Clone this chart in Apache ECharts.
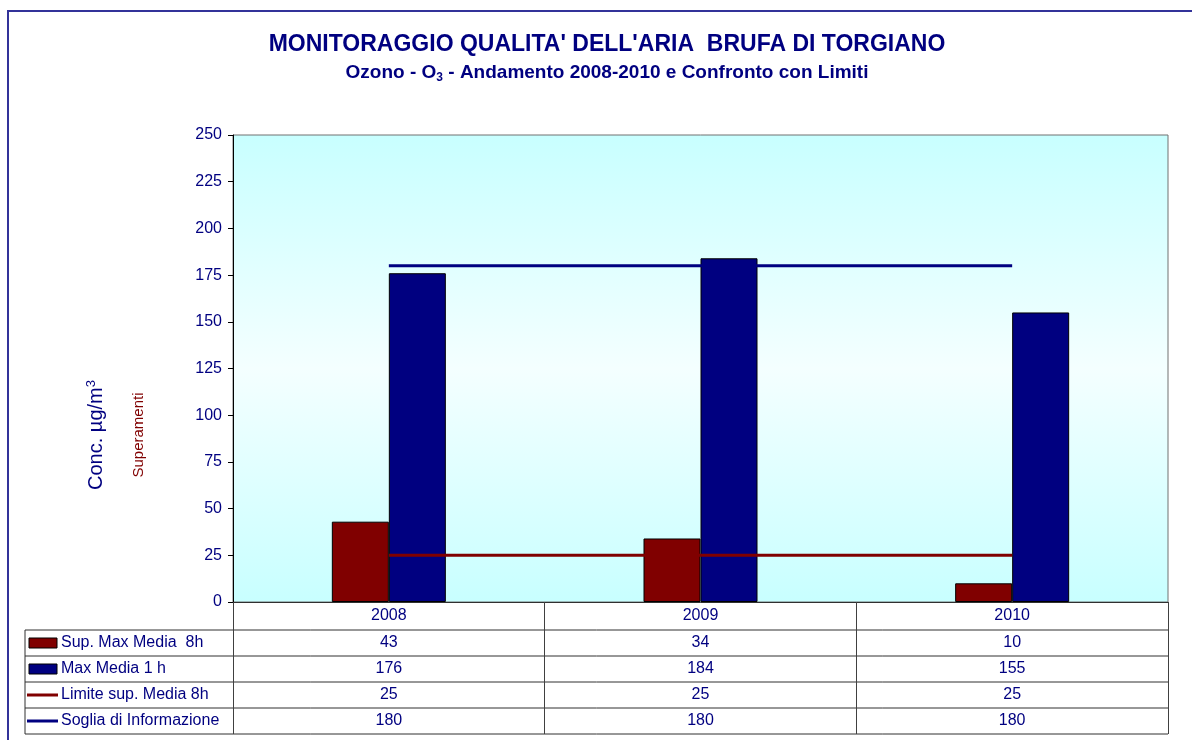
<!DOCTYPE html>
<html>
<head>
<meta charset="utf-8">
<script src="https://cdn.jsdelivr.net/npm/echarts@6/dist/echarts.min.js"></script>
<style>
  html, body { margin: 0; padding: 0; background: #fff; }
  #main { width: 1192px; height: 740px; }
</style>
</head>
<body>
<div id="main"></div>
<script>
var years = ['2008', '2009', '2010'];
var supMaxMedia8h = [43, 34, 10];
var maxMedia1h = [176, 184, 155];
var limiteMedia8h = [25, 25, 25];
var sogliaInfo = [180, 180, 180];

var rowNames = ['Sup. Max Media  8h', 'Max Media 1 h', 'Limite sup. Media 8h', 'Soglia di Informazione'];
var rowValues = [supMaxMedia8h, maxMedia1h, limiteMedia8h, sogliaInfo];

var FONT = "'Liberation Sans', Arial, sans-serif";
var NAVY = '#000080';
var RED = '#800000';

var myChart = echarts.init(document.getElementById('main'));

// grid geometry (px), used for the data table under the chart
var gLeft = 233, gRight = 1168, gBottom = 602;
var tableLeft = 25;
var rowLines = [630, 656, 682, 708, 734];
var rowCenters = [643, 669, 695, 721];

// extra x axes: one per table row, labels taken from the series arrays
var tableAxes = rowValues.map(function (vals, k) {
  return {
    type: 'category',
    data: years,
    position: 'bottom',
    offset: rowCenters[k] - 616,
    axisLine: { show: false },
    axisTick: { show: false },
    axisLabel: {
      interval: 0,
      margin: 6,
      color: NAVY,
      fontSize: 16,
      fontFamily: FONT,
      formatter: function (v, i) { return String(vals[i]); }
    }
  };
});

var graphics = [
  // outer frame
  { type: 'rect', shape: { x: 8, y: 11, width: 1400, height: 900 },
    style: { fill: 'none', stroke: '#333399', lineWidth: 2 }, silent: true },
  { type: 'line', shape: { x1: tableLeft, y1: rowLines[0], x2: tableLeft, y2: rowLines[4] },
    style: { stroke: '#303030', lineWidth: 1 } },
  // axis titles
  { type: 'text', x: 96, y: 435, rotation: Math.PI / 2,
    style: { text: 'Conc. µg/m{sup|3}', fill: NAVY, fontSize: 20, fontFamily: FONT,
      align: 'center', verticalAlign: 'middle',
      rich: { sup: { fontSize: 13, fill: NAVY, fontFamily: FONT, verticalAlign: 'top', padding: [0, 0, 9, 0] } } } },
  { type: 'text', x: 139, y: 435, rotation: Math.PI / 2,
    style: { text: 'Superamenti', fill: RED, fontSize: 15, fontFamily: FONT,
      align: 'center', verticalAlign: 'middle' } }
];

rowLines.forEach(function (y) {
  graphics.push({ type: 'line', shape: { x1: tableLeft, y1: y, x2: gRight, y2: y },
    style: { stroke: '#303030', lineWidth: 1 } });
});

rowNames.forEach(function (name, k) {
  var cy = rowCenters[k];
  if (k < 2) {
    graphics.push({ type: 'rect', shape: { x: 29, y: cy - 5, width: 28, height: 10 },
      style: { fill: k === 0 ? RED : NAVY, stroke: '#000', lineWidth: 1 } });
  } else {
    graphics.push({ type: 'line', shape: { x1: 27, y1: cy, x2: 58, y2: cy },
      style: { stroke: k === 2 ? RED : NAVY, lineWidth: 3 } });
  }
  graphics.push({ type: 'text', x: 61, y: cy,
    style: { text: name, fill: NAVY, fontSize: 16, fontFamily: FONT, verticalAlign: 'middle' } });
});

var option = {
  animation: false,
  textStyle: { fontFamily: FONT },
  title: [
    {
      text: "MONITORAGGIO QUALITA' DELL'ARIA  BRUFA DI TORGIANO",
      left: 607, top: 33, textAlign: 'center', padding: 0,
      textStyle: { color: NAVY, fontSize: 23, fontWeight: 'bold', fontFamily: FONT }
    },
    {
      text: 'Ozono - O{sub|3} - Andamento 2008-2010 e Confronto con Limiti',
      left: 607, top: 62, textAlign: 'center', padding: 0,
      textStyle: {
        color: NAVY, fontSize: 19, fontWeight: 'bold', fontFamily: FONT,
        rich: { sub: { fontSize: 12, fontWeight: 'bold', color: NAVY, fontFamily: FONT,
          verticalAlign: 'bottom', padding: [10, 0, 0, 0] } }
      }
    }
  ],
  grid: {
    left: gLeft, right: 1192 - gRight, top: 135, bottom: 740 - gBottom,
    show: true,
    borderColor: '#707070',
    borderWidth: 1,
    backgroundColor: {
      type: 'linear', x: 0, y: 0, x2: 0, y2: 1,
      colorStops: [
        { offset: 0, color: '#c8ffff' },
        { offset: 0.5, color: '#f4ffff' },
        { offset: 1, color: '#c8ffff' }
      ]
    }
  },
  xAxis: [{
    type: 'category',
    data: years,
    position: 'bottom',
    axisLine: { show: true, lineStyle: { color: '#303030', width: 1 } },
    axisTick: { show: true, interval: 0, length: 132, lineStyle: { color: '#404040' } },
    axisLabel: { interval: 0, margin: 6, color: NAVY, fontSize: 16, fontFamily: FONT }
  }].concat(tableAxes),
  yAxis: {
    type: 'value',
    min: 0, max: 250, interval: 25,
    axisLine: { show: true, lineStyle: { color: '#000', width: 1 } },
    axisTick: { show: true, length: 5, lineStyle: { color: '#000' } },
    splitLine: { show: false },
    axisLabel: { margin: 11, color: NAVY, fontSize: 16, fontFamily: FONT }
  },
  series: [
    {
      name: rowNames[0], type: 'bar', data: supMaxMedia8h,
      barWidth: 57, barGap: '0%',
      itemStyle: { color: RED, borderColor: '#000', borderWidth: 1 }
    },
    {
      name: rowNames[1], type: 'bar', data: maxMedia1h,
      barWidth: 57, barGap: '0%',
      itemStyle: { color: NAVY, borderColor: '#000', borderWidth: 1 }
    },
    {
      name: rowNames[2], type: 'line', data: limiteMedia8h, z: 5,
      symbol: 'none', lineStyle: { color: RED, width: 3 }
    },
    {
      name: rowNames[3], type: 'line', data: sogliaInfo, z: 5,
      symbol: 'none', lineStyle: { color: NAVY, width: 3 }
    }
  ],
  graphic: graphics
};

myChart.setOption(option);
</script>
</body>
</html>
